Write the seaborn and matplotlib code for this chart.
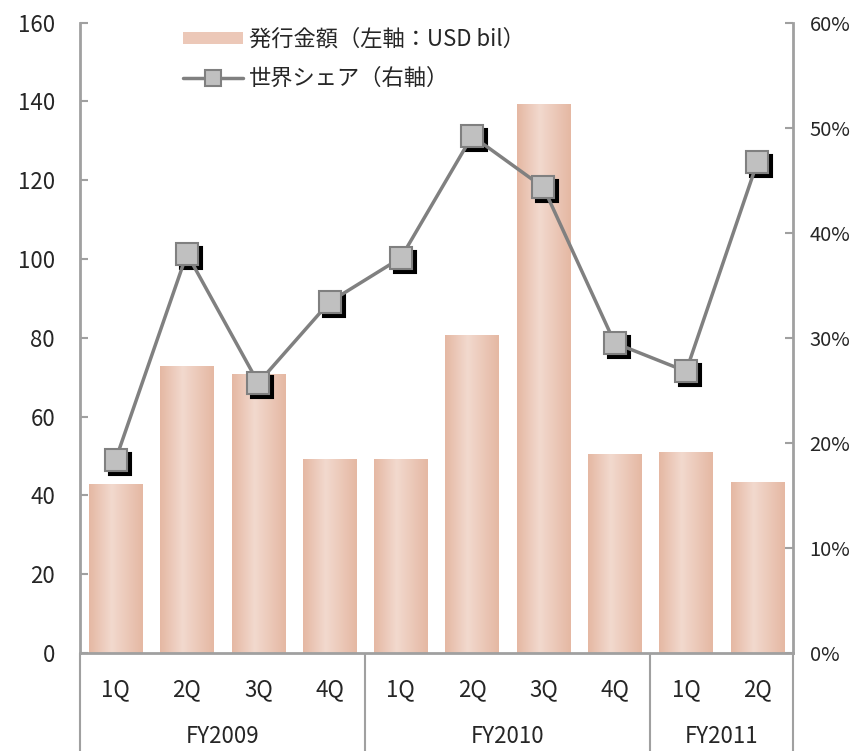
import numpy as np
import matplotlib
matplotlib.use("Agg")
import matplotlib.pyplot as plt
import matplotlib.transforms as mtransforms
from matplotlib.patches import Patch
from matplotlib.lines import Line2D
from matplotlib.colors import to_rgb
import seaborn as sns

# data
years = ["FY2009", "FY2010", "FY2011"]
quarters_per_year = [4, 4, 2]
quarters = ["1Q", "2Q", "3Q", "4Q", "1Q", "2Q", "3Q", "4Q", "1Q", "2Q"]
issuance = [42.8, 72.7, 70.8, 49.0, 49.0, 80.5, 139.3, 50.4, 50.9, 43.3]   # USD bil
share = [18.4, 38.0, 25.7, 33.4, 37.6, 49.2, 44.3, 29.5, 26.8, 46.7]       # %
left_ticks = [0, 20, 40, 60, 80, 100, 120, 140, 160]
right_ticks = [0, 10, 20, 30, 40, 50, 60]
bar_label = "発行金額（左軸：USD bil）"
line_label = "世界シェア（右軸）"

period_keys = [f"{y} {q}" for y, q in zip(np.repeat(years, quarters_per_year), quarters)]
pos = np.arange(len(period_keys))
year_edges = np.concatenate([[0], np.cumsum(quarters_per_year)]) - 0.5
year_centers = (year_edges[:-1] + year_edges[1:]) / 2

GRAY = "#a0a0a0"
LINE = "#808080"
BAR_EDGE = "#e5b8a3"
BAR_MID = "#f2d9ce"

sns.set_style("white")
plt.rcParams["font.family"] = ["Noto Sans CJK JP", "DejaVu Sans"]
plt.rcParams["font.size"] = 16

fig = plt.figure(figsize=(8.57, 7.51), dpi=100)
ax = fig.add_axes([80 / 857, 98 / 751, 713 / 857, 630.5 / 751])

sns.barplot(x=period_keys, y=issuance, ax=ax, width=0.75, color=BAR_MID,
            saturation=1, zorder=2)

# horizontal shading on each bar (lighter towards the middle)
t = np.linspace(0, 1, 64)
c0, c1 = np.array(to_rgb(BAR_EDGE)), np.array(to_rgb(BAR_MID))
mix = np.interp(t, [0, 0.42, 1], [0, 1, 0])
grad = (c0[None, :] * (1 - mix[:, None]) + c1[None, :] * mix[:, None])[None, :, :]
for bar in ax.patches:
    x0, w, h = bar.get_x(), bar.get_width(), bar.get_height()
    ax.imshow(grad, extent=[x0, x0 + w, 0, h], aspect="auto",
              interpolation="bilinear", zorder=2)
    bar.set_facecolor("none")
    bar.set_edgecolor("none")

ax.set_xlim(-0.5, len(pos) - 0.5)
ax.set_ylim(0, 160)
ax.set_yticks(left_ticks)
ax.set_xticks(pos)
ax.set_xticklabels(quarters)
ax.set_xlabel("")
ax.tick_params(axis="x", which="major", length=0, pad=18)
ax.set_xticks(np.arange(-0.5, len(pos)), minor=True)
ax.tick_params(axis="x", which="minor", length=38, width=1.5, color=GRAY, direction="out")
ax.tick_params(axis="y", direction="in", length=6, width=1.5, color=GRAY, pad=18)
for side in ["top", "right"]:
    ax.spines[side].set_visible(False)
for side in ["left", "bottom"]:
    ax.spines[side].set_color(GRAY)
    ax.spines[side].set_linewidth(2)

# year labels and long separators
sec = ax.secondary_xaxis("bottom")
sec.spines["bottom"].set_visible(False)
sec.set_xticks(year_centers)
sec.set_xticklabels(years)
sec.tick_params(axis="x", which="major", length=0, pad=52)
sec.set_xticks(year_edges, minor=True)
sec.tick_params(axis="x", which="minor", length=75, width=1.5, color=GRAY, direction="out")

# right axis: share line with shadowed square markers
ax2 = ax.twinx()
shadow = ax2.transData + mtransforms.ScaledTranslation(4 / 100, -4 / 100, fig.dpi_scale_trans)
sns.lineplot(x=pos, y=share, ax=ax2, linestyle="", marker="s", ms=15.5,
             color="black", mfc="black", mec="black", mew=1.5, transform=shadow)
sns.lineplot(x=pos, y=share, ax=ax2, color=LINE, lw=2.5, marker="s", ms=15.5,
             mfc="#c0c0c0", mec=LINE, mew=1.5)
ax2.set_ylim(0, 60)
ax2.set_yticks(right_ticks)
ax2.set_yticklabels([f"{v}%" for v in right_ticks])
ax2.set_ylabel("")
ax2.tick_params(axis="y", direction="in", length=6, width=1.5, color=GRAY,
                pad=12, labelsize=14.5)
for side in ["top", "left", "bottom"]:
    ax2.spines[side].set_visible(False)
ax2.spines["right"].set_color(GRAY)
ax2.spines["right"].set_linewidth(2)

handles = [
    Patch(facecolor="#ecc8b8", edgecolor="none"),
    Line2D([], [], color=LINE, lw=2.5, marker="s", ms=11, mfc="#c0c0c0", mec=LINE, mew=1.5),
]
fig.legend(handles, [bar_label, line_label], loc="upper left",
           bbox_to_anchor=(183 / 857, 1 - 28 / 751), frameon=False, fontsize=16,
           handlelength=2.7, handleheight=0.45, handletextpad=0.25,
           labelspacing=0.7, borderpad=0, borderaxespad=0)

fig.savefig("out.png", dpi=100)
